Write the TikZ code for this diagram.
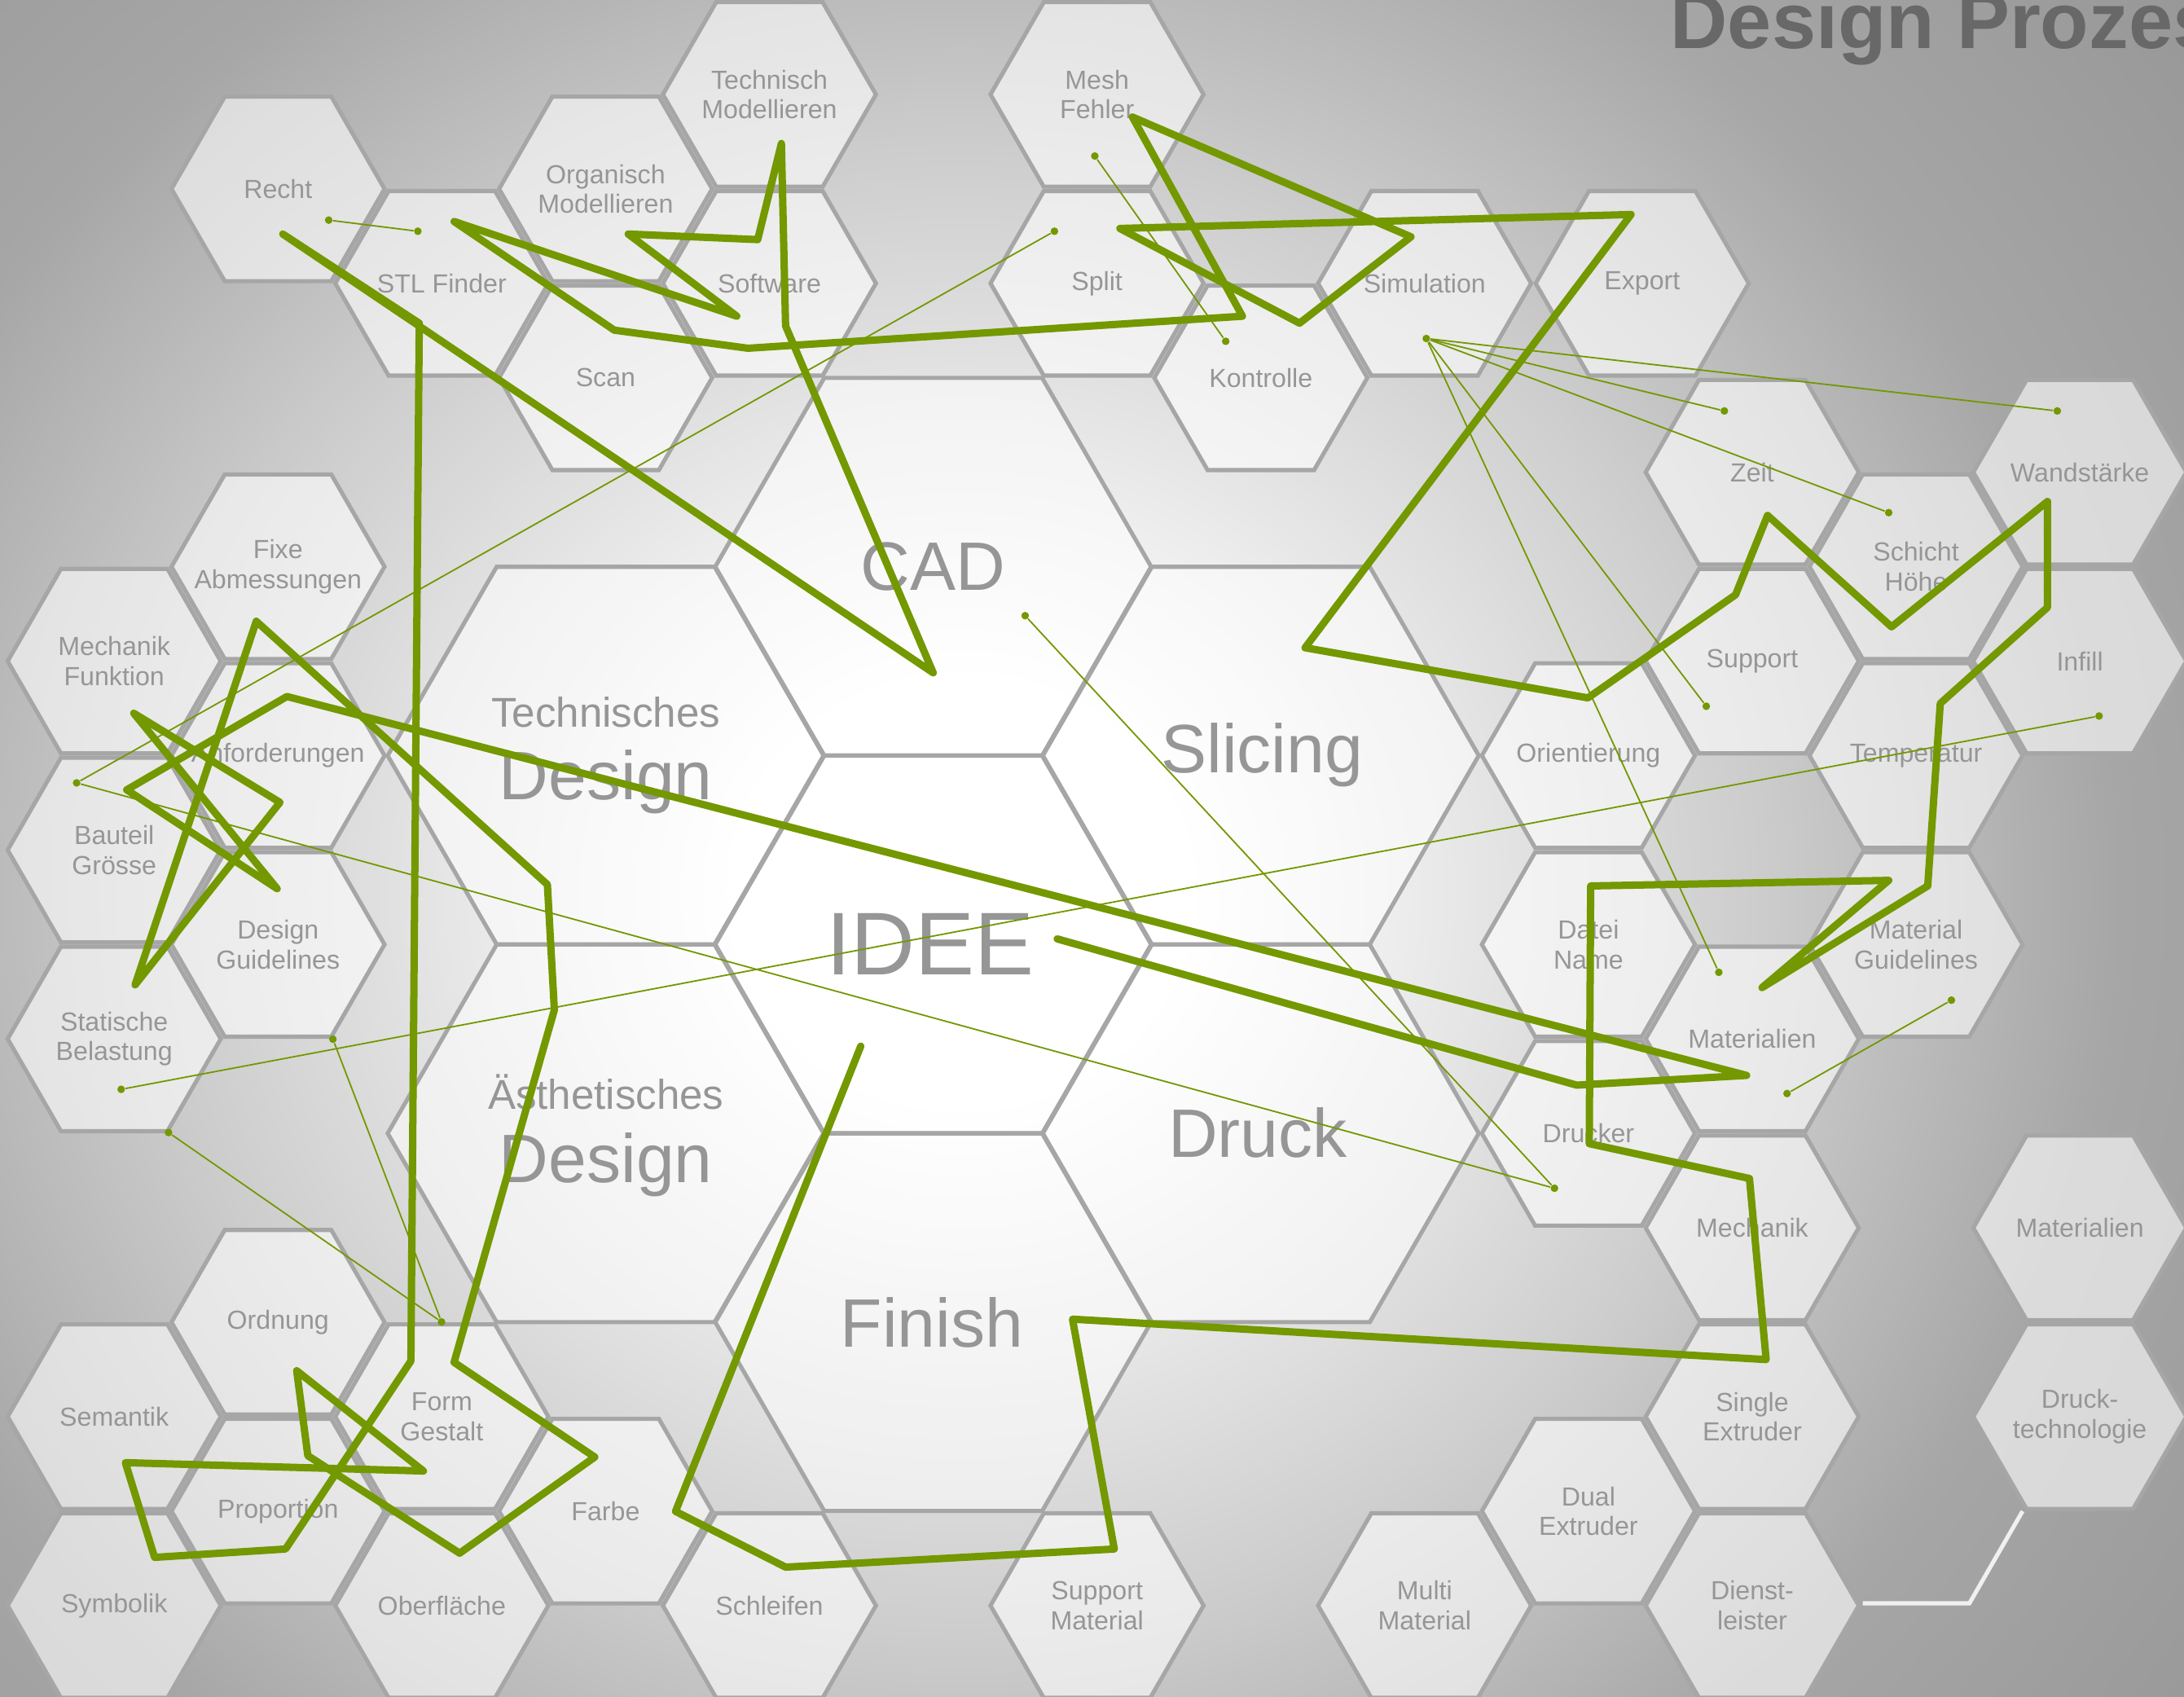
\documentclass[tikz,border=0pt]{standalone}
\usepackage{fontspec}
\setmainfont{Liberation Sans}
\usetikzlibrary{shapes.geometric}
\definecolor{leaf}{RGB}{115,152,0}
\definecolor{cellline}{RGB}{166,166,166}
\definecolor{celltext}{RGB}{150,150,150}
\definecolor{titlegray}{RGB}{104,104,104}
\definecolor{bgmid}{RGB}{204,204,204}
\definecolor{bgfar}{RGB}{166,166,166}
\definecolor{bgedge}{RGB}{150,150,150}
\pgfdeclarelayer{background}
\pgfdeclarelayer{foreground}
\pgfsetlayers{background,main,foreground}
\pgfdeclareradialshading{backdrop}{\pgfpoint{0bp}{0bp}}{color(0bp)=(white); color(4.3bp)=(white); color(15bp)=(bgmid); color(21.7bp)=(bgfar); color(30bp)=(bgedge); color(50bp)=(bgedge)}
\def\cellsize{3.06cm}
\def\bigsize{6.26cm}
\tikzset{cell/.style={draw=cellline, line width=1.7pt, fill=white, fill opacity=0.6,
    regular polygon, regular polygon sides=6, minimum size=\cellsize, inner sep=0pt}}
\tikzset{cellword/.style={text=celltext, font=\fontsize{10.7}{12.2}\selectfont, align=center, inner sep=0pt}}
\tikzset{bigcell/.style={cell, minimum size=\bigsize, fill opacity=0.55}}
\tikzset{bigword/.style={text=celltext, font=\fontsize{28}{30}\selectfont, anchor=base, inner sep=0pt}}
\tikzset{joint/.style={circle, fill=leaf, inner sep=0pt, minimum size=0.11cm}}
\tikzset{thinlink/.style={draw=leaf, line width=0.6pt}}
\tikzset{scribble/.style={draw=leaf, line width=3pt, line join=round, line cap=round}}
\def\hexcell#1#2#3{\node[cell] (#1) at (#2) {}; \node[cellword] (#1word) at (#1) {#3};}

\begin{document}
\begin{tikzpicture}[x=0.02cm, y=-0.02cm] %% one unit = one px of the sketch

\useasboundingbox (0,0) rectangle (1568,1218);

\begin{pgfonlayer}{background}
\clip (0,0) rectangle (1568,1218);
\shade[shading=backdrop] (-270,-260) rectangle (1650,1540);
\end{pgfonlayer}

%% small cells, left group
\hexcell{mechfunk}{82,474.6}{Mechanik\\Funktion}
\hexcell{bauteil}{82,610.2}{Bauteil\\Grösse}
\hexcell{statik}{82,745.8}{Statische\\Belastung}
\hexcell{semantik}{82,1017}{Semantik}
\hexcell{symbolik}{82,1152.6}{Symbolik}
\hexcell{recht}{199.6,135.6}{Recht}
\hexcell{fixe}{199.6,406.8}{Fixe\\Abmessungen}
\hexcell{anford}{199.6,542.4}{Anforderungen}
\hexcell{designgl}{199.6,678}{Design\\Guidelines}
\hexcell{ordnung}{199.6,949.2}{Ordnung}
\hexcell{proportion}{199.6,1084.8}{Proportion}
\hexcell{stlfinder}{317.2,203.4}{STL Finder}
\hexcell{form}{317.2,1017}{Form\\Gestalt}
\hexcell{oberfl}{317.2,1152.6}{Oberfläche}
\hexcell{organisch}{434.8,135.6}{Organisch\\Modellieren}
\hexcell{scan}{434.8,271.2}{Scan}
\hexcell{farbe}{434.8,1084.8}{Farbe}
\hexcell{technisch}{552.4,67.8}{Technisch\\Modellieren}
\hexcell{software}{552.4,203.4}{Software}
\hexcell{schleifen}{552.4,1152.6}{Schleifen}

%% small cells, middle group
\hexcell{mesh}{787.6,67.8}{Mesh\\Fehler}
\hexcell{split}{787.6,203.4}{Split}
\hexcell{supportmat}{787.6,1152.6}{Support\\Material}
\hexcell{kontrolle}{905.2,271.2}{Kontrolle}
\hexcell{simulation}{1022.8,203.4}{Simulation}
\hexcell{multimat}{1022.8,1152.6}{Multi\\Material}
\hexcell{export}{1179,203.4}{Export}

%% small cells, right group
\hexcell{orient}{1140.4,542.4}{Orientierung}
\hexcell{dateiname}{1140.4,678}{Datei\\Name}
\hexcell{drucker}{1140.4,813.6}{Drucker}
\hexcell{dualext}{1140.4,1084.8}{Dual\\Extruder}
\hexcell{zeit}{1258,339}{Zeit}
\hexcell{support}{1258,474.6}{Support}
\hexcell{materialien}{1258,745.8}{Materialien}
\hexcell{mechanik}{1258,881.4}{Mechanik}
\hexcell{singleext}{1258,1017}{Single\\Extruder}
\hexcell{dienst}{1258,1152.6}{Dienst-\\leister}
\hexcell{schicht}{1375.6,406.8}{Schicht\\Höhe}
\hexcell{temperatur}{1375.6,542.4}{Temperatur}
\hexcell{matgl}{1375.6,678}{Material\\Guidelines}
\hexcell{wand}{1493.2,339}{Wandstärke}
\hexcell{infill}{1493.2,474.6}{Infill}
\hexcell{materialtyp}{1493.2,881.4}{Materialien}
\hexcell{drucktech}{1493.2,1017}{Druck-\\technologie}

\draw[draw=white!88!gray, line width=1.7pt] (1337.4,1151) -- (1413.9,1151) -- (1452.1,1084.8);

%% big cells
\node[bigcell] (cad) at (670,406.8) {};
\node[bigcell] (idee) at (670,678) {};
\node[bigcell] (finish) at (670,949.2) {};
\node[bigcell] (slicing) at (905.2,542.4) {};
\node[bigcell] (druck) at (905.2,813.6) {};
\node[bigcell] (techdesign) at (434.8,542.4) {};
\node[bigcell] (aesthdesign) at (434.8,813.6) {};

\node[bigword] (cadword) at (670,424) {CAD};
\node[bigword, font=\fontsize{36.4}{38}\selectfont] (ideeword) at (668,700) {IDEE};
\node[bigword] (finishword) at (669,967) {Finish};
\node[bigword] (slicingword) at (906,555) {Slicing};
\node[bigword] (druckword) at (903,831) {Druck};
\node[bigword, font=\fontsize{17}{19}\selectfont] (techword) at (435,522) {Technisches};
\node[bigword] (techdesignword) at (435,574) {Design};
\node[bigword, font=\fontsize{17}{19}\selectfont] (aesthword) at (435,796) {Ästhetisches};
\node[bigword] (aesthdesignword) at (435,849) {Design};

\node[anchor=base west, inner sep=0pt, text=titlegray, font=\fontsize{32.4}{34}\selectfont\bfseries] (title) at (1199,35) {Design Prozess};

%% thin links
\begin{pgfonlayer}{foreground}
\node[joint] (rechtpt) at (236,158) {};
\node[joint] (stlpt) at (300,166) {};
\node[joint] (meshpt) at (786,112) {};
\node[joint] (kontrollept) at (880,245) {};
\node[joint] (splitpt) at (757,166) {};
\node[joint] (bauteilpt) at (55,562) {};
\node[joint] (simpt) at (1024,243) {};
\node[joint] (zeitpt) at (1238,295) {};
\node[joint] (wandpt) at (1477,295) {};
\node[joint] (schichtpt) at (1356,368) {};
\node[joint] (supportpt) at (1225,507) {};
\node[joint] (materialpt) at (1234,698) {};
\node[joint] (cadpt) at (736,442) {};
\node[joint] (druckerpt) at (1116,853) {};
\node[joint] (infillpt) at (1507,514) {};
\node[joint] (statikpt) at (87,782) {};
\node[joint] (matglpt) at (1401,718) {};
\node[joint] (materialbpt) at (1283,785) {};
\node[joint] (designglpt) at (239,746) {};
\node[joint] (formpt) at (317,949) {};
\node[joint] (statikbpt) at (121,813) {};

\draw[thinlink] (rechtpt) -- (stlpt);
\draw[thinlink] (meshpt) -- (kontrollept);
\draw[thinlink] (splitpt) -- (bauteilpt);
\draw[thinlink] (bauteilpt) -- (druckerpt);
\draw[thinlink] (cadpt) -- (druckerpt);
\draw[thinlink] (infillpt) -- (statikpt);
\draw[thinlink] (matglpt) -- (materialbpt);
\draw[thinlink] (designglpt) -- (formpt);
\draw[thinlink] (statikbpt) -- (formpt);
\foreach \target in {zeitpt, wandpt, schichtpt, supportpt, materialpt}
  \draw[thinlink] (simpt) -- (\target);

%% the green scribble
\draw[scribble] (759,674) -- (1132,779) -- (1254,772) -- (206,500) -- (91,567)
  -- (199,638) -- (96,512) -- (201,576) -- (97,707) -- (184,446) -- (393,635)
  -- (398,725) -- (326,978) -- (427,1046) -- (330,1115) -- (221,1045) -- (213,984)
  -- (304,1056) -- (90,1050) -- (111,1118) -- (205,1112) -- (295,977) -- (301,232)
  -- (203,168) -- (670,483) -- (564,234) -- (561,103) -- (544,172) -- (451,168)
  -- (529,227) -- (326,159) -- (441,237) -- (537,250) -- (892,227) -- (813,84)
  -- (1013,170) -- (933,232) -- (804,164) -- (1171,154) -- (937,465) -- (1140,501)
  -- (1246,427) -- (1269,370) -- (1358,450) -- (1470,360) -- (1470,436) -- (1393,505)
  -- (1384,636) -- (1265,709) -- (1356,632) -- (1142,636) -- (1141,821) -- (1256,846)
  -- (1268,976) -- (770,947) -- (800,1112) -- (564,1125) -- (485,1085) -- (618,751);
\end{pgfonlayer}

\end{tikzpicture}
\end{document}
